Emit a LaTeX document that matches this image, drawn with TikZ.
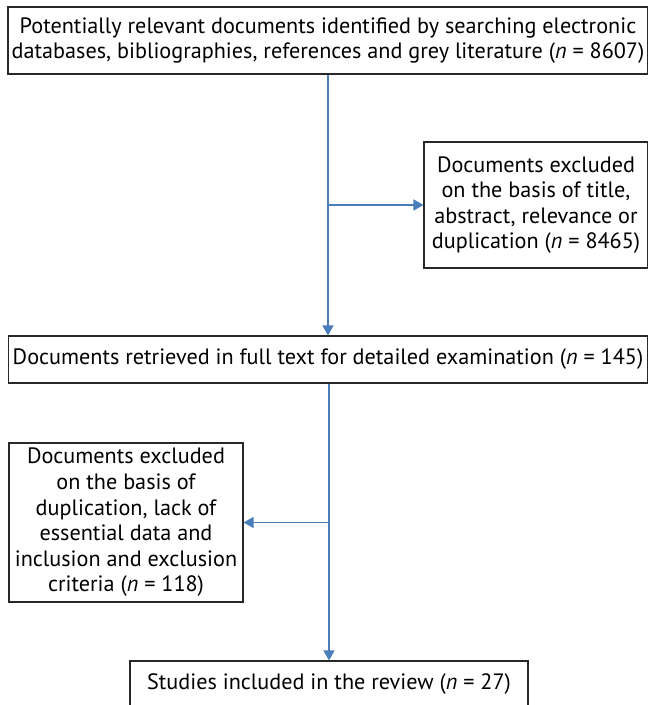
\documentclass[tikz,border=0pt]{standalone}
\usepackage{fontspec}
\setmainfont{PT Sans}
\usetikzlibrary{arrows.meta, positioning}
\definecolor{flowblue}{RGB}{74,126,187}
\definecolor{boxline}{RGB}{40,40,40}

\begin{document}
\begin{tikzpicture}[x=1bp, y=-1bp]
      \tikzset{box/.style={draw=boxline, line width=1.1bp, inner sep=0pt, align=center, font=\fontsize{22.2bp}{25.6bp}\selectfont}, flow/.style={draw=flowblue, line width=1.3bp, -{Triangle[length=10bp, width=11bp]}}}
      \useasboundingbox (0,0) rectangle (648,705);
      \node[box, minimum width=640bp, minimum height=67bp] (found) at (328,40.5) {Potentially relevant documents identified by searching electronic\\databases, bibliographies, references and grey literature (\textit{n} = 8607)};
      \node[box, minimum width=224bp, minimum height=126bp] (excl1) at (536,205) {Documents excluded\\on the basis of title,\\abstract, relevance or\\duplication (\textit{n} = 8465)};
      \node[box, minimum width=639bp, minimum height=47bp] (full) at (328,359.5) {Documents retrieved in full text for detailed examination (\textit{n} = 145)};
      \node[box, minimum width=234bp, minimum height=159bp] (excl2) at (126,522.5) {Documents excluded\\on the basis of\\duplication, lack of\\essential data and\\inclusion and exclusion\\criteria (\textit{n} = 118)};
      \node[box, minimum width=398bp, minimum height=47bp] (incl) at (329,684.5) {Studies included in the review (\textit{n} = 27)};
      \draw[flow] (found.south) -- (full.north);
      \draw[flow] (excl1.west -| found.south) -- (excl1.west);
      \draw[flow] (full.south -| incl.north) -- (incl.north);
      \draw[flow] (excl2.east -| incl.north) -- (excl2.east);
    \end{tikzpicture}
\end{document}
